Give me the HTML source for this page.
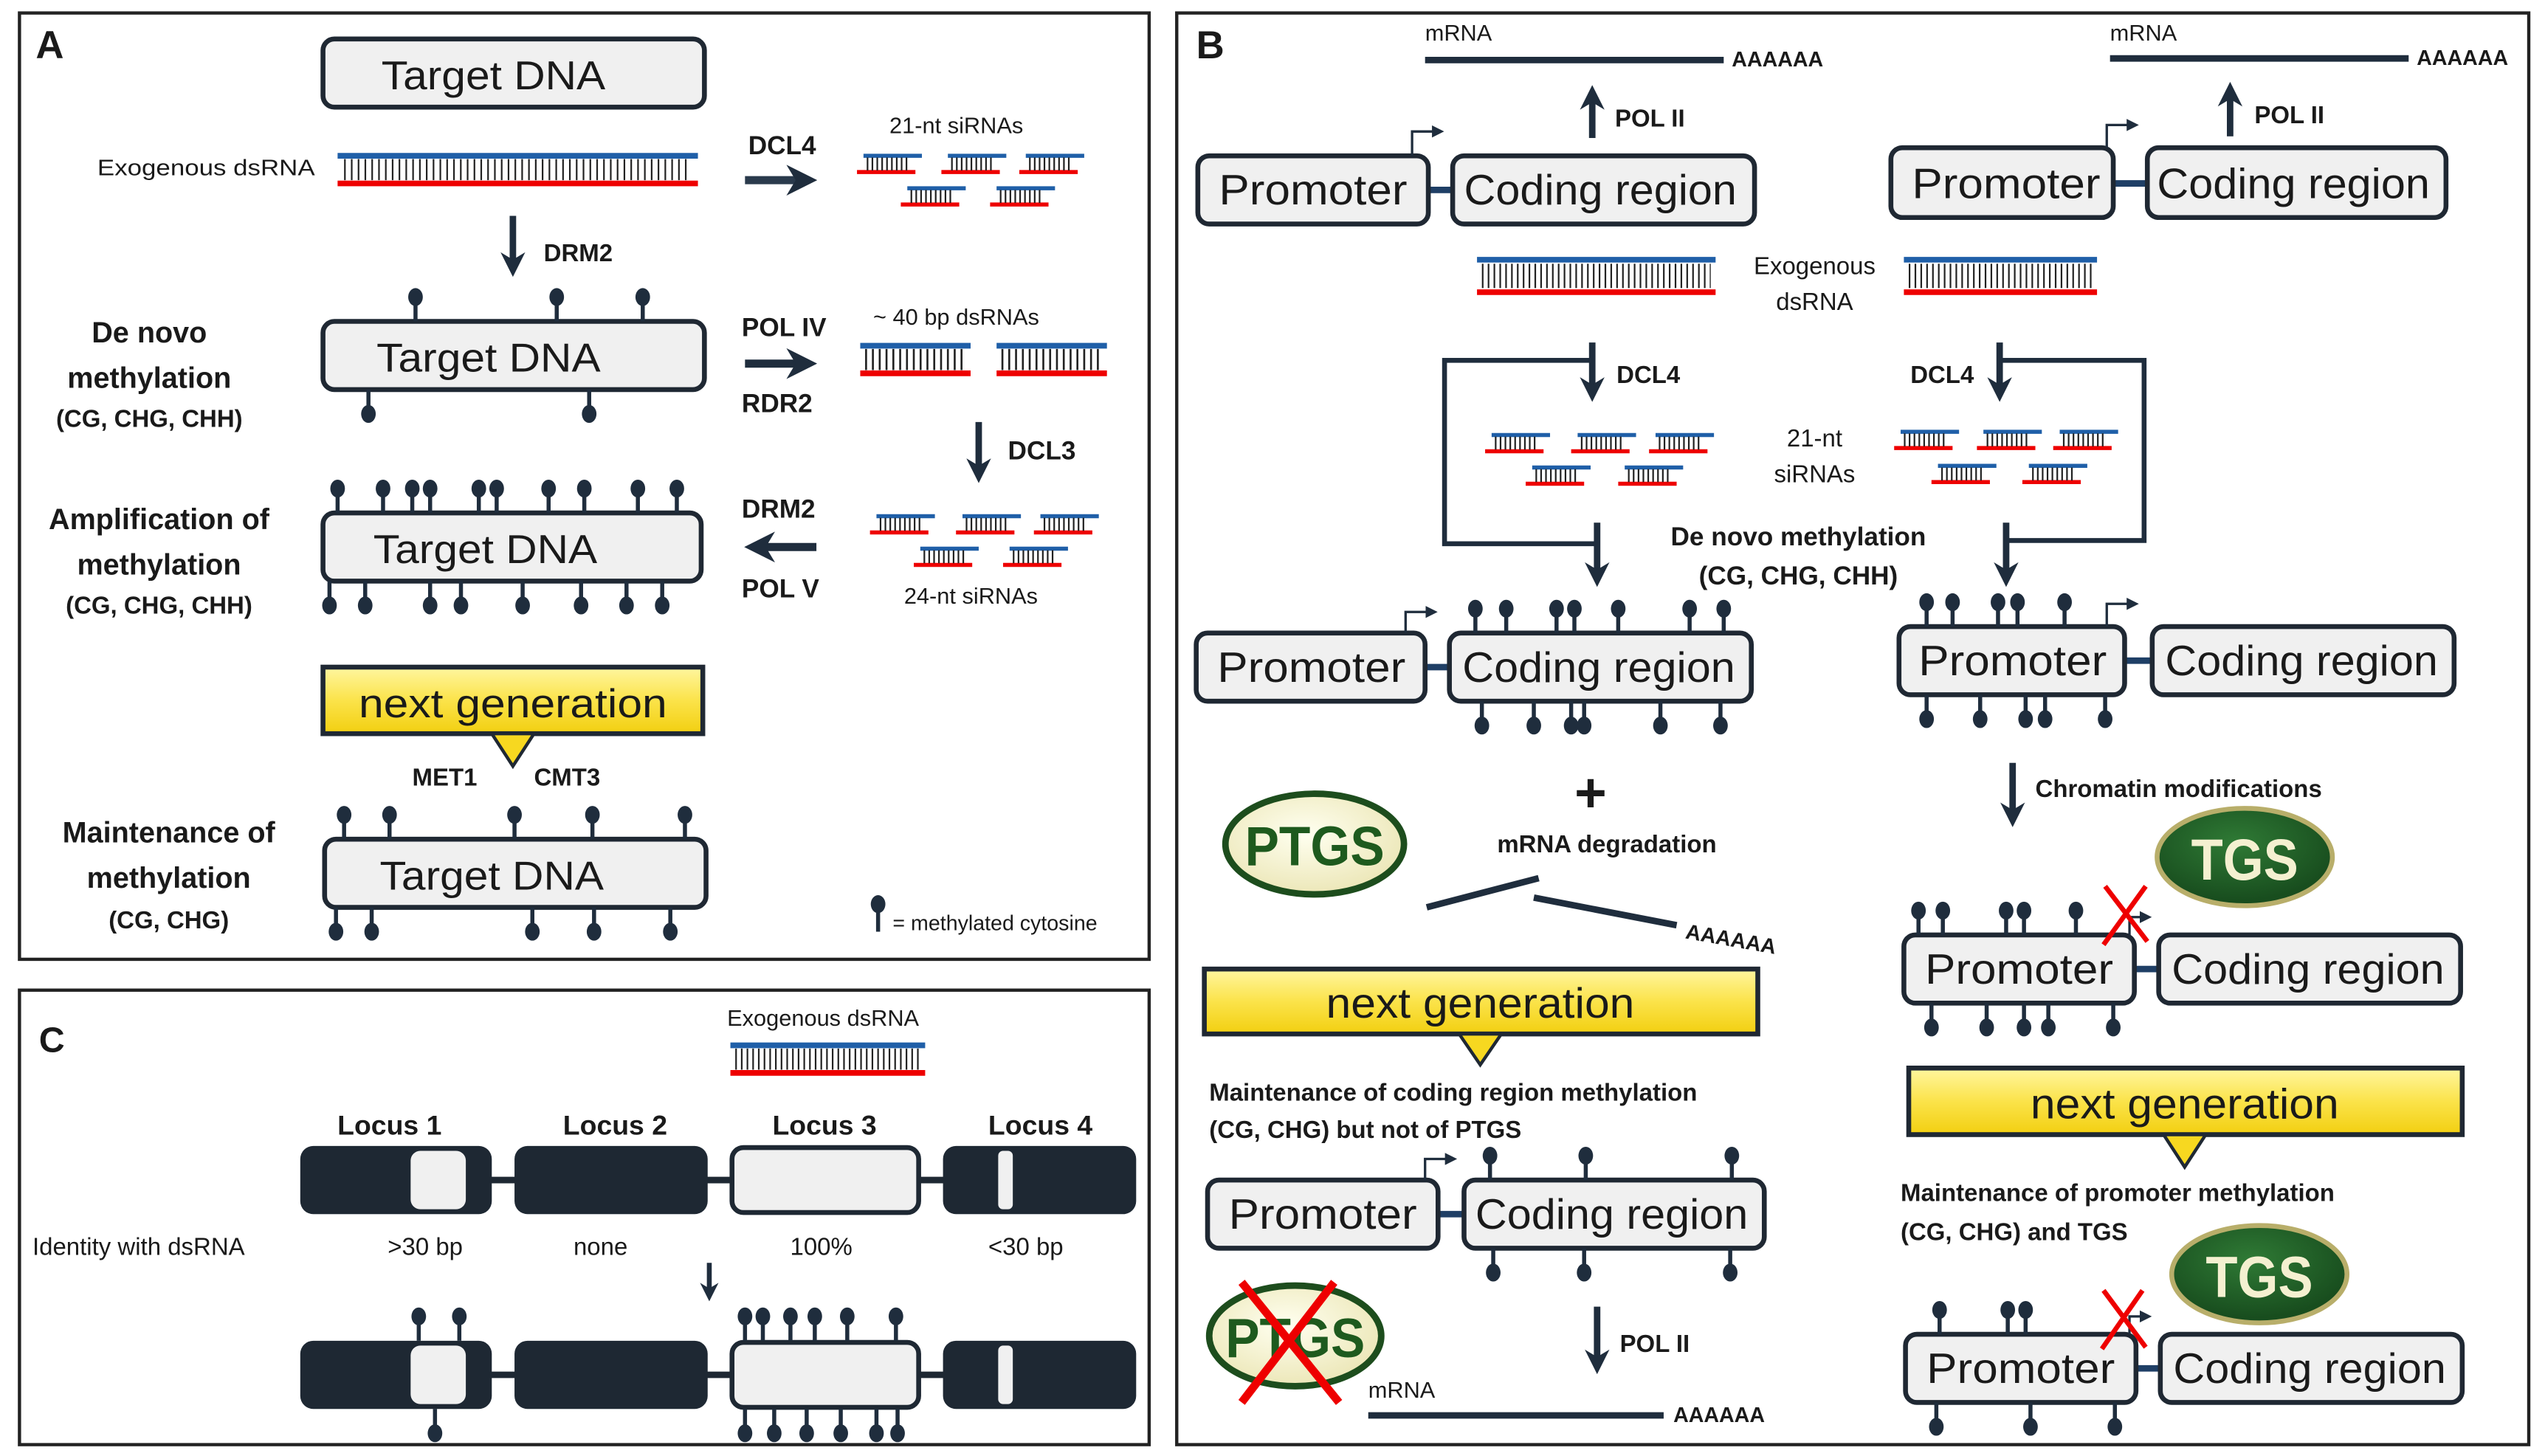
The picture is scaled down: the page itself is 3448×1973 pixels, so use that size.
<!DOCTYPE html>
<html><head><meta charset="utf-8"><style>
html,body{margin:0;padding:0;background:#fff;}
svg{display:block;}
text{font-family:"Liberation Sans",sans-serif;fill:#1a1a1a;}
.b{font-weight:bold;}
.bx{fill:#f0f0f0;stroke:#1f2833;stroke-width:3;}
</style></head><body>
<svg width="3448" height="1973" viewBox="0 0 1568 897" preserveAspectRatio="none" xmlns="http://www.w3.org/2000/svg">
<defs>
<marker id="ah" viewBox="0 0 10 10" refX="5" refY="5" markerWidth="3.8" markerHeight="3.8" orient="auto" markerUnits="strokeWidth">
<path d="M0,0 L10,5 L0,10 L3,5 Z" fill="#1f2d3d"/></marker>
<marker id="sa" viewBox="0 0 10 10" refX="5" refY="5" markerWidth="5" markerHeight="5" orient="auto" markerUnits="strokeWidth">
<path d="M0,0 L10,5 L0,10 Z" fill="#1f2d3d"/></marker>
<g id="si"><line x1="4" y1="1" x2="40" y2="1" stroke="#1f5fa8" stroke-width="2.5"/><line x1="0" y1="11" x2="36" y2="11" stroke="#e00" stroke-width="2.5"/><line x1="6" y1="6" x2="32" y2="6" stroke="#222" stroke-width="8" stroke-dasharray="1 2"/></g>
<g id="lu"><line x1="0" y1="0" x2="0" y2="-13" stroke="#1f2d3d" stroke-width="2.5"/><ellipse cx="0" cy="-15" rx="4.5" ry="5.5" fill="#1f2d3d"/></g>
<g id="ld"><line x1="0" y1="0" x2="0" y2="13" stroke="#1f2d3d" stroke-width="2.5"/><ellipse cx="0" cy="15" rx="4.5" ry="5.5" fill="#1f2d3d"/></g>
<linearGradient id="yg" x1="0" y1="0" x2="0" y2="1"><stop offset="0" stop-color="#fff6a0"/><stop offset="0.5" stop-color="#fbe34a"/><stop offset="1" stop-color="#f2cf10"/></linearGradient>
<radialGradient id="pg" cx="0.45" cy="0.4" r="0.6"><stop offset="0" stop-color="#fffff0"/><stop offset="1" stop-color="#ece7b8"/></radialGradient>
<radialGradient id="tg" cx="0.45" cy="0.35" r="0.6"><stop offset="0" stop-color="#2f7a35"/><stop offset="1" stop-color="#184d1e"/></radialGradient>
</defs>

<rect x="12" y="8" width="696" height="583" fill="none" stroke="#222" stroke-width="2"/>
<rect x="725" y="8" width="833" height="882" fill="none" stroke="#222" stroke-width="2"/>
<rect x="12" y="610" width="696" height="280" fill="none" stroke="#222" stroke-width="2"/>

<!-- PANEL A -->
<text x="22" y="36" class="b" font-size="24">A</text>
<rect class="bx" x="199" y="24" width="235" height="42" rx="7"/>
<text x="304" y="55" font-size="25" text-anchor="middle" textLength="138" lengthAdjust="spacingAndGlyphs">Target DNA</text>
<text x="60" y="108" font-size="14" fill="#333" textLength="134" lengthAdjust="spacingAndGlyphs">Exogenous dsRNA</text>
<line x1="208" y1="96" x2="430" y2="96" stroke="#1f5fa8" stroke-width="3.5"/>
<line x1="208" y1="113" x2="430" y2="113" stroke="#e00" stroke-width="3.5"/>
<line x1="212" y1="104.5" x2="426" y2="104.5" stroke="#222" stroke-width="13" stroke-dasharray="1 3.2"/>

<line x1="316" y1="133" x2="316" y2="163" stroke="#1f2d3d" stroke-width="4" marker-end="url(#ah)"/>
<text x="335" y="161" class="b" font-size="15">DRM2</text>
<text x="461" y="95" class="b" font-size="16">DCL4</text>
<line x1="459" y1="111" x2="494" y2="111" stroke="#2a3a4c" stroke-width="5" marker-end="url(#ah)"/>
<text x="548" y="82" font-size="14" fill="#333">21-nt siRNAs</text>
<use href="#si" x="528" y="95"/><use href="#si" x="580" y="95"/><use href="#si" x="628" y="95"/>
<use href="#si" x="555" y="115"/><use href="#si" x="610" y="115"/>

<rect class="bx" x="199" y="198" width="235" height="42" rx="7"/>
<text x="301" y="229" font-size="25" text-anchor="middle" textLength="138" lengthAdjust="spacingAndGlyphs">Target DNA</text>
<use href="#lu" x="256" y="198"/><use href="#lu" x="343" y="198"/><use href="#lu" x="396" y="198"/>
<use href="#ld" x="227" y="240"/><use href="#ld" x="363" y="240"/>
<text x="92" y="211" class="b" font-size="18" text-anchor="middle">De novo</text>
<text x="92" y="239" class="b" font-size="18" text-anchor="middle">methylation</text>
<text x="92" y="263" class="b" font-size="15" text-anchor="middle">(CG, CHG, CHH)</text>
<text x="457" y="207" class="b" font-size="16">POL IV</text>
<line x1="459" y1="224" x2="494" y2="224" stroke="#1f2d3d" stroke-width="5" marker-end="url(#ah)"/>
<text x="457" y="254" class="b" font-size="16">RDR2</text>
<text x="538" y="200" font-size="14" fill="#333">~ 40 bp dsRNAs</text>
<line x1="530" y1="213" x2="598" y2="213" stroke="#1f5fa8" stroke-width="3.5"/><line x1="530" y1="230" x2="598" y2="230" stroke="#e00" stroke-width="3.5"/>
<line x1="533" y1="221.5" x2="596" y2="221.5" stroke="#222" stroke-width="13" stroke-dasharray="1.2 3"/>
<line x1="614" y1="213" x2="682" y2="213" stroke="#1f5fa8" stroke-width="3.5"/><line x1="614" y1="230" x2="682" y2="230" stroke="#e00" stroke-width="3.5"/>
<line x1="617" y1="221.5" x2="680" y2="221.5" stroke="#222" stroke-width="13" stroke-dasharray="1.2 3"/>
<line x1="603" y1="260" x2="603" y2="290" stroke="#1f2d3d" stroke-width="4" marker-end="url(#ah)"/>
<text x="621" y="283" class="b" font-size="16">DCL3</text>
<text x="457" y="319" class="b" font-size="16">DRM2</text>
<line x1="503" y1="337" x2="468" y2="337" stroke="#1f2d3d" stroke-width="5" marker-end="url(#ah)"/>
<text x="457" y="368" class="b" font-size="16">POL V</text>
<use href="#si" x="536" y="317"/><use href="#si" x="589" y="317"/><use href="#si" x="637" y="317"/>
<use href="#si" x="563" y="337"/><use href="#si" x="618" y="337"/>
<text x="557" y="372" font-size="14" fill="#333">24-nt siRNAs</text>

<rect class="bx" x="199" y="316" width="233" height="42" rx="7"/>
<text x="299" y="347" font-size="25" text-anchor="middle" textLength="138" lengthAdjust="spacingAndGlyphs">Target DNA</text>
<use href="#lu" x="208" y="316"/><use href="#lu" x="236" y="316"/><use href="#lu" x="254" y="316"/><use href="#lu" x="265" y="316"/><use href="#lu" x="295" y="316"/><use href="#lu" x="306" y="316"/><use href="#lu" x="338" y="316"/><use href="#lu" x="360" y="316"/><use href="#lu" x="393" y="316"/><use href="#lu" x="417" y="316"/>
<use href="#ld" x="203" y="358"/><use href="#ld" x="225" y="358"/><use href="#ld" x="265" y="358"/><use href="#ld" x="284" y="358"/><use href="#ld" x="322" y="358"/><use href="#ld" x="358" y="358"/><use href="#ld" x="386" y="358"/><use href="#ld" x="408" y="358"/>
<text x="98" y="326" class="b" font-size="18" text-anchor="middle">Amplification of</text>
<text x="98" y="354" class="b" font-size="18" text-anchor="middle">methylation</text>
<text x="98" y="378" class="b" font-size="15" text-anchor="middle">(CG, CHG, CHH)</text>

<rect x="199" y="411" width="234" height="41" fill="url(#yg)" stroke="#1f2833" stroke-width="3"/>
<text x="316" y="442" font-size="25" text-anchor="middle" textLength="190" lengthAdjust="spacingAndGlyphs">next generation</text>
<polygon points="303,452 329,452 316,472" fill="#f7d820" stroke="#1f2833" stroke-width="2"/>
<text x="254" y="484" class="b" font-size="15">MET1</text>
<text x="329" y="484" class="b" font-size="15">CMT3</text>

<rect class="bx" x="200" y="517" width="235" height="42" rx="7"/>
<text x="303" y="548" font-size="25" text-anchor="middle" textLength="138" lengthAdjust="spacingAndGlyphs">Target DNA</text>
<use href="#lu" x="212" y="517"/><use href="#lu" x="240" y="517"/><use href="#lu" x="317" y="517"/><use href="#lu" x="365" y="517"/><use href="#lu" x="422" y="517"/>
<use href="#ld" x="207" y="559"/><use href="#ld" x="229" y="559"/><use href="#ld" x="328" y="559"/><use href="#ld" x="366" y="559"/><use href="#ld" x="413" y="559"/>
<text x="104" y="519" class="b" font-size="18" text-anchor="middle">Maintenance of</text>
<text x="104" y="547" class="b" font-size="18" text-anchor="middle">methylation</text>
<text x="104" y="572" class="b" font-size="15" text-anchor="middle">(CG, CHG)</text>
<line x1="541" y1="557" x2="541" y2="574" stroke="#1f2d3d" stroke-width="2.5"/><ellipse cx="541" cy="557" rx="4.5" ry="5.5" fill="#1f2d3d"/>
<text x="550" y="573" font-size="13" fill="#333">= methylated cytosine</text>

<!-- PANEL C -->
<text x="24" y="648" class="b" font-size="22">C</text>
<text x="448" y="632" font-size="14" fill="#333">Exogenous dsRNA</text>
<line x1="450" y1="644" x2="570" y2="644" stroke="#1f5fa8" stroke-width="3.5"/><line x1="450" y1="661" x2="570" y2="661" stroke="#e00" stroke-width="3.5"/>
<line x1="453" y1="652.5" x2="567" y2="652.5" stroke="#222" stroke-width="13" stroke-dasharray="1 2.5"/>
<text x="240" y="699" class="b" font-size="17" text-anchor="middle">Locus 1</text>
<text x="379" y="699" class="b" font-size="17" text-anchor="middle">Locus 2</text>
<text x="508" y="699" class="b" font-size="17" text-anchor="middle">Locus 3</text>
<text x="641" y="699" class="b" font-size="17" text-anchor="middle">Locus 4</text>
<g id="crow">
<line x1="300" y1="727" x2="585" y2="727" stroke="#1e2833" stroke-width="4"/>
<rect x="185" y="706" width="118" height="42" rx="8" fill="#1e2833"/>
<rect x="253" y="709" width="34" height="36" rx="6" fill="#f0f0f0"/>
<rect x="317" y="706" width="119" height="42" rx="8" fill="#1e2833"/>
<rect x="451" y="707" width="115" height="40" rx="7" fill="#f0f0f0" stroke="#1e2833" stroke-width="3"/>
<rect x="581" y="706" width="119" height="42" rx="8" fill="#1e2833"/>
<rect x="615" y="709" width="9" height="36" rx="3" fill="#f0f0f0"/>
</g>
<use href="#crow" x="0" y="120"/>
<text x="20" y="773" font-size="15">Identity with dsRNA</text>
<text x="262" y="773" font-size="15" text-anchor="middle">&gt;30 bp</text>
<text x="370" y="773" font-size="15" text-anchor="middle">none</text>
<text x="506" y="773" font-size="15" text-anchor="middle">100%</text>
<text x="632" y="773" font-size="15" text-anchor="middle">&lt;30 bp</text>
<line x1="437" y1="778" x2="437" y2="796" stroke="#1f2d3d" stroke-width="3" marker-end="url(#ah)"/>
<use href="#lu" x="258" y="826"/><use href="#lu" x="283" y="826"/><use href="#ld" x="268" y="868"/>
<use href="#lu" x="459" y="826"/><use href="#lu" x="470" y="826"/><use href="#lu" x="487" y="826"/><use href="#lu" x="502" y="826"/><use href="#lu" x="522" y="826"/><use href="#lu" x="552" y="826"/>
<use href="#ld" x="459" y="868"/><use href="#ld" x="477" y="868"/><use href="#ld" x="497" y="868"/><use href="#ld" x="518" y="868"/><use href="#ld" x="540" y="868"/><use href="#ld" x="553" y="868"/>

<!-- PANEL B -->
<text x="737" y="36" class="b" font-size="24">B</text>
<text x="878" y="25" font-size="14" fill="#333">mRNA</text>
<line x1="878" y1="37" x2="1062" y2="37" stroke="#1f2d3d" stroke-width="4"/>
<text x="1067" y="41" class="b" font-size="13">AAAAAA</text>
<line x1="981" y1="85" x2="981" y2="60" stroke="#1f2d3d" stroke-width="4" marker-end="url(#ah)"/>
<text x="995" y="78" class="b" font-size="15">POL II</text>
<line x1="880" y1="117" x2="895" y2="117" stroke="#1f3f66" stroke-width="4"/>
<rect class="bx" x="738" y="96" width="142" height="42" rx="7"/>
<text x="809" y="126" font-size="26" text-anchor="middle" textLength="116" lengthAdjust="spacingAndGlyphs">Promoter</text>
<rect class="bx" x="895" y="96" width="186" height="42" rx="7"/>
<text x="986" y="126" font-size="26" text-anchor="middle" textLength="168" lengthAdjust="spacingAndGlyphs">Coding region</text>
<path d="M870,96 V81 H886" fill="none" stroke="#1f2d3d" stroke-width="1.5" marker-end="url(#sa)"/>
<text x="1300" y="25" font-size="14" fill="#333">mRNA</text>
<line x1="1300" y1="36" x2="1484" y2="36" stroke="#1f2d3d" stroke-width="4"/>
<text x="1489" y="40" class="b" font-size="13">AAAAAA</text>
<line x1="1374" y1="84" x2="1374" y2="58" stroke="#1f2d3d" stroke-width="4" marker-end="url(#ah)"/>
<text x="1389" y="76" class="b" font-size="15">POL II</text>
<line x1="1302" y1="113" x2="1323" y2="113" stroke="#1f3f66" stroke-width="4"/>
<rect class="bx" x="1165" y="91" width="137" height="43" rx="7"/>
<text x="1236" y="122" font-size="26" text-anchor="middle" textLength="116" lengthAdjust="spacingAndGlyphs">Promoter</text>
<rect class="bx" x="1323" y="91" width="184" height="43" rx="7"/>
<text x="1413" y="122" font-size="26" text-anchor="middle" textLength="168" lengthAdjust="spacingAndGlyphs">Coding region</text>
<path d="M1298,91 V77 H1314" fill="none" stroke="#1f2d3d" stroke-width="1.5" marker-end="url(#sa)"/>
<line x1="910" y1="160" x2="1057" y2="160" stroke="#1f5fa8" stroke-width="3.5"/><line x1="910" y1="180" x2="1057" y2="180" stroke="#e00" stroke-width="3.5"/>
<line x1="913" y1="170" x2="1054" y2="170" stroke="#222" stroke-width="15" stroke-dasharray="1 2.6"/>
<line x1="1173" y1="160" x2="1292" y2="160" stroke="#1f5fa8" stroke-width="3.5"/><line x1="1173" y1="180" x2="1292" y2="180" stroke="#e00" stroke-width="3.5"/>
<line x1="1176" y1="170" x2="1289" y2="170" stroke="#222" stroke-width="15" stroke-dasharray="1 2.6"/>
<text x="1118" y="169" font-size="15" fill="#333" text-anchor="middle">Exogenous</text>
<text x="1118" y="191" font-size="15" fill="#333" text-anchor="middle">dsRNA</text>
<path d="M981,222 H890 V335 H984" fill="none" stroke="#1f2d3d" stroke-width="3"/>
<line x1="981" y1="211" x2="981" y2="240" stroke="#1f2d3d" stroke-width="4" marker-end="url(#ah)"/>
<line x1="984" y1="322" x2="984" y2="354" stroke="#1f2d3d" stroke-width="4" marker-end="url(#ah)"/>
<text x="996" y="236" class="b" font-size="15">DCL4</text>
<path d="M1232,222 H1321 V333 H1236" fill="none" stroke="#1f2d3d" stroke-width="3"/>
<line x1="1232" y1="211" x2="1232" y2="240" stroke="#1f2d3d" stroke-width="4" marker-end="url(#ah)"/>
<line x1="1236" y1="322" x2="1236" y2="354" stroke="#1f2d3d" stroke-width="4" marker-end="url(#ah)"/>
<text x="1177" y="236" class="b" font-size="15">DCL4</text>
<use href="#si" x="915" y="267"/><use href="#si" x="968" y="267"/><use href="#si" x="1016" y="267"/><use href="#si" x="940" y="287"/><use href="#si" x="997" y="287"/>
<use href="#si" x="1167" y="265"/><use href="#si" x="1218" y="265"/><use href="#si" x="1265" y="265"/><use href="#si" x="1190" y="286"/><use href="#si" x="1246" y="286"/>
<text x="1118" y="275" font-size="15" fill="#333" text-anchor="middle">21-nt</text>
<text x="1118" y="297" font-size="15" fill="#333" text-anchor="middle">siRNAs</text>
<text x="1108" y="336" class="b" font-size="16" text-anchor="middle">De novo methylation</text>
<text x="1108" y="360" class="b" font-size="16" text-anchor="middle">(CG, CHG, CHH)</text>
<line x1="878" y1="411" x2="893" y2="411" stroke="#1f3f66" stroke-width="4"/>
<rect class="bx" x="737" y="390" width="141" height="42" rx="7"/>
<text x="808" y="420" font-size="26" text-anchor="middle" textLength="116" lengthAdjust="spacingAndGlyphs">Promoter</text>
<rect class="bx" x="893" y="390" width="186" height="42" rx="7"/>
<text x="985" y="420" font-size="26" text-anchor="middle" textLength="168" lengthAdjust="spacingAndGlyphs">Coding region</text>
<path d="M866,390 V377 H882" fill="none" stroke="#1f2d3d" stroke-width="1.5" marker-end="url(#sa)"/>
<use href="#lu" x="909" y="390"/><use href="#lu" x="928" y="390"/><use href="#lu" x="959" y="390"/><use href="#lu" x="970" y="390"/><use href="#lu" x="997" y="390"/><use href="#lu" x="1041" y="390"/><use href="#lu" x="1062" y="390"/>
<use href="#ld" x="913" y="432"/><use href="#ld" x="945" y="432"/><use href="#ld" x="968" y="432"/><use href="#ld" x="976" y="432"/><use href="#ld" x="1023" y="432"/><use href="#ld" x="1060" y="432"/>
<line x1="1309" y1="407" x2="1326" y2="407" stroke="#1f3f66" stroke-width="4"/>
<rect class="bx" x="1170" y="386" width="139" height="42" rx="7"/>
<text x="1240" y="416" font-size="26" text-anchor="middle" textLength="116" lengthAdjust="spacingAndGlyphs">Promoter</text>
<rect class="bx" x="1326" y="386" width="186" height="42" rx="7"/>
<text x="1418" y="416" font-size="26" text-anchor="middle" textLength="168" lengthAdjust="spacingAndGlyphs">Coding region</text>
<path d="M1298,386 V372 H1314" fill="none" stroke="#1f2d3d" stroke-width="1.5" marker-end="url(#sa)"/>
<use href="#lu" x="1187" y="386"/><use href="#lu" x="1203" y="386"/><use href="#lu" x="1231" y="386"/><use href="#lu" x="1243" y="386"/><use href="#lu" x="1272" y="386"/>
<use href="#ld" x="1187" y="428"/><use href="#ld" x="1220" y="428"/><use href="#ld" x="1248" y="428"/><use href="#ld" x="1260" y="428"/><use href="#ld" x="1297" y="428"/>
<text x="980" y="500" class="b" font-size="34" text-anchor="middle" fill="#1f2d3d">+</text>
<text x="990" y="525" class="b" font-size="15" text-anchor="middle">mRNA degradation</text>
<ellipse cx="810" cy="520" rx="55" ry="31" fill="url(#pg)" stroke="#1d4d1d" stroke-width="4"/>
<text x="810" y="533" class="b" font-size="34" text-anchor="middle" style="fill:#1e5a1e" textLength="86" lengthAdjust="spacingAndGlyphs">PTGS</text>
<line x1="879" y1="559" x2="948" y2="541" stroke="#1f2d3d" stroke-width="4"/>
<line x1="945" y1="553" x2="1033" y2="570" stroke="#1f2d3d" stroke-width="4"/>
<text x="1038" y="578" class="b" font-size="13" transform="rotate(10 1038 578)">AAAAAA</text>
<line x1="1240" y1="470" x2="1240" y2="502" stroke="#1f2d3d" stroke-width="4" marker-end="url(#ah)"/>
<text x="1254" y="491" class="b" font-size="15">Chromatin  modifications</text>
<ellipse cx="1383" cy="528" rx="54" ry="30" fill="url(#tg)" stroke="#b8ae6a" stroke-width="3"/>
<text x="1383" y="542" class="b" font-size="36" text-anchor="middle" style="fill:#f4f0d0" textLength="66" lengthAdjust="spacingAndGlyphs">TGS</text>
<line x1="1315" y1="597" x2="1330" y2="597" stroke="#1f3f66" stroke-width="4"/>
<rect class="bx" x="1173" y="576" width="142" height="42" rx="7"/>
<text x="1244" y="606" font-size="26" text-anchor="middle" textLength="116" lengthAdjust="spacingAndGlyphs">Promoter</text>
<rect class="bx" x="1330" y="576" width="186" height="42" rx="7"/>
<text x="1422" y="606" font-size="26" text-anchor="middle" textLength="168" lengthAdjust="spacingAndGlyphs">Coding region</text>
<path d="M1312,576 V565 H1322" fill="none" stroke="#1f2d3d" stroke-width="1.5" marker-end="url(#sa)"/>
<use href="#lu" x="1182" y="576"/><use href="#lu" x="1197" y="576"/><use href="#lu" x="1236" y="576"/><use href="#lu" x="1247" y="576"/><use href="#lu" x="1279" y="576"/>
<use href="#ld" x="1190" y="618"/><use href="#ld" x="1224" y="618"/><use href="#ld" x="1247" y="618"/><use href="#ld" x="1262" y="618"/><use href="#ld" x="1302" y="618"/>
<path d="M1297,546 L1323,580 M1322,546 L1296,582" stroke="#e00" stroke-width="3"/>
<rect x="1176" y="658" width="341" height="41" fill="url(#yg)" stroke="#1f2833" stroke-width="3"/>
<text x="1346" y="689" font-size="26" text-anchor="middle" textLength="190" lengthAdjust="spacingAndGlyphs">next generation</text>
<polygon points="1333,699 1359,699 1346,719" fill="#f7d820" stroke="#1f2833" stroke-width="2"/>
<text x="1171" y="740" class="b" font-size="15">Maintenance of promoter methylation</text>
<text x="1171" y="764" class="b" font-size="15">(CG, CHG) and TGS</text>
<ellipse cx="1392" cy="785" rx="54" ry="30" fill="url(#tg)" stroke="#b8ae6a" stroke-width="3"/>
<text x="1392" y="799" class="b" font-size="36" text-anchor="middle" style="fill:#f4f0d0" textLength="66" lengthAdjust="spacingAndGlyphs">TGS</text>
<line x1="1316" y1="843" x2="1331" y2="843" stroke="#1f3f66" stroke-width="4"/>
<rect class="bx" x="1174" y="822" width="142" height="42" rx="7"/>
<text x="1245" y="852" font-size="26" text-anchor="middle" textLength="116" lengthAdjust="spacingAndGlyphs">Promoter</text>
<rect class="bx" x="1331" y="822" width="186" height="42" rx="7"/>
<text x="1423" y="852" font-size="26" text-anchor="middle" textLength="168" lengthAdjust="spacingAndGlyphs">Coding region</text>
<path d="M1312,822 V811 H1322" fill="none" stroke="#1f2d3d" stroke-width="1.5" marker-end="url(#sa)"/>
<use href="#lu" x="1195" y="822"/><use href="#lu" x="1237" y="822"/><use href="#lu" x="1248" y="822"/>
<use href="#ld" x="1193" y="864"/><use href="#ld" x="1251" y="864"/><use href="#ld" x="1303" y="864"/>
<path d="M1296,795 L1322,830 M1320,795 L1295,831" stroke="#e00" stroke-width="3"/>
<rect x="742" y="597" width="341" height="40" fill="url(#yg)" stroke="#1f2833" stroke-width="3"/>
<text x="912" y="627" font-size="26" text-anchor="middle" textLength="190" lengthAdjust="spacingAndGlyphs">next generation</text>
<polygon points="899,637 925,637 912,656" fill="#f7d820" stroke="#1f2833" stroke-width="2"/>
<text x="745" y="678" class="b" font-size="15">Maintenance of coding region methylation</text>
<text x="745" y="701" class="b" font-size="15">(CG, CHG) but not of PTGS</text>
<line x1="886" y1="748" x2="902" y2="748" stroke="#1f3f66" stroke-width="4"/>
<rect class="bx" x="744" y="727" width="142" height="42" rx="7"/>
<text x="815" y="757" font-size="26" text-anchor="middle" textLength="116" lengthAdjust="spacingAndGlyphs">Promoter</text>
<rect class="bx" x="902" y="727" width="185" height="42" rx="7"/>
<text x="993" y="757" font-size="26" text-anchor="middle" textLength="168" lengthAdjust="spacingAndGlyphs">Coding region</text>
<path d="M878,727 V714 H894" fill="none" stroke="#1f2d3d" stroke-width="1.5" marker-end="url(#sa)"/>
<use href="#lu" x="918" y="727"/><use href="#lu" x="977" y="727"/><use href="#lu" x="1067" y="727"/>
<use href="#ld" x="920" y="769"/><use href="#ld" x="976" y="769"/><use href="#ld" x="1066" y="769"/>
<ellipse cx="798" cy="823" rx="53" ry="31" fill="url(#pg)" stroke="#1d4d1d" stroke-width="4"/>
<text x="798" y="836" class="b" font-size="34" text-anchor="middle" style="fill:#1e5a1e" textLength="86" lengthAdjust="spacingAndGlyphs">PTGS</text>
<path d="M765,790 L825,864 M822,790 L765,864" stroke="#e00" stroke-width="5"/>
<line x1="984" y1="805" x2="984" y2="839" stroke="#1f2d3d" stroke-width="4" marker-end="url(#ah)"/>
<text x="998" y="833" class="b" font-size="15">POL II</text>
<text x="843" y="861" font-size="14" fill="#333">mRNA</text>
<line x1="843" y1="872" x2="1025" y2="872" stroke="#1f2d3d" stroke-width="4"/>
<text x="1031" y="876" class="b" font-size="13">AAAAAA</text>
</svg>
</body></html>
